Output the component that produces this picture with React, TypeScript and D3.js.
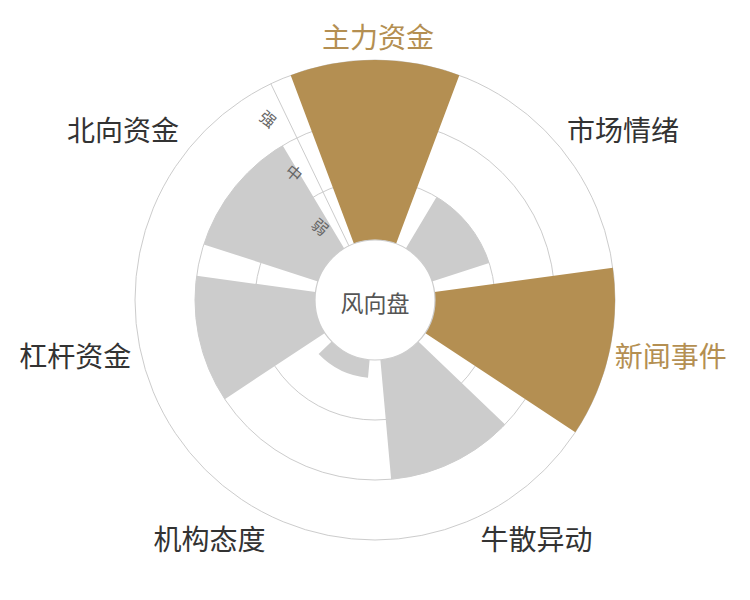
import React from "react";
import * as d3 from "d3";

const categories: string[] = ["主力资金", "市场情绪", "新闻事件", "牛散异动", "机构态度", "杠杆资金", "北向资金"];
const strength: number[] = [3, 1, 3, 2, 0.3, 2, 2];
const levels: string[] = ["弱", "中", "强"];
const centerLabel = "风向盘";

const W = 750;
const H = 600;
const CX = 375;
const CY = 300;
const INNER = 60;
const OUTER = 240;
const GOLD = "#B48F52";
const GREY = "#CCCCCC";
const LINE = "#CCCCCC";
const FONT = "'Noto Sans CJK SC', 'Noto Sans', sans-serif";

export default function App() {
  const n = categories.length;
  const step = (2 * Math.PI) / n;
  const angle = d3
    .scaleBand<string>()
    .domain(categories)
    .range([-step / 2, 2 * Math.PI - step / 2])
    .paddingInner(0.2)
    .paddingOuter(0.1);
  const maxV = levels.length;
  const r = d3.scaleLinear().domain([0, maxV]).range([INNER, OUTER]);
  const rBand = d3.scaleBand<string>().domain(levels).range([INNER, OUTER]);

  const arc = d3.arc<any>();
  const axisAngle = -step / 2; // radial axis at boundary before first category

  const ringValues = d3.range(1, maxV + 1);

  return (
    <svg
      width={W}
      height={H}
      style={{ position: "absolute", left: 0, top: 0, background: "#fff" }}
    >
      <g transform={`translate(${CX},${CY})`}>
        {ringValues.map((v) => (
          <circle key={v} r={r(v)} fill="none" stroke={LINE} strokeWidth={1} />
        ))}
        <line
          x1={INNER * Math.sin(axisAngle)}
          y1={-INNER * Math.cos(axisAngle)}
          x2={OUTER * Math.sin(axisAngle)}
          y2={-OUTER * Math.cos(axisAngle)}
          stroke={LINE}
          strokeWidth={1}
        />
        {categories.map((c, i) => {
          const a0 = angle(c)!;
          const a1 = a0 + angle.bandwidth();
          const d = arc({
            innerRadius: INNER,
            outerRadius: r(strength[i]),
            startAngle: a0,
            endAngle: a1,
          });
          return <path key={c} d={d || ""} fill={strength[i] >= maxV ? GOLD : GREY} />;
        })}
        <circle r={INNER} fill="#fff" stroke={LINE} strokeWidth={1.2} />
        <text
          x={0}
          y={2}
          textAnchor="middle"
          dominantBaseline="central"
          fontFamily={FONT}
          fontSize={23}
          fill="#555"
        >
          {centerLabel}
        </text>
        {levels.map((l) => {
          const rr = rBand(l)! + rBand.bandwidth() / 2;
          const off = 17;
          const ox = Math.sin(axisAngle);
          const oy = -Math.cos(axisAngle);
          const px = oy;
          const py = -ox;
          const x = rr * ox + off * px;
          const y = rr * oy + off * py;
          const rot = 40;
          return (
            <text
              key={l}
              transform={`translate(${x},${y}) rotate(${rot})`}
              textAnchor="middle"
              dominantBaseline="central"
              fontFamily={FONT}
              fontSize={16}
              fill="#666"
            >
              {l}
            </text>
          );
        })}
        {categories.map((c, i) => {
          const a = angle(c)! + angle.bandwidth() / 2;
          const rr = OUTER + 8;
          const x = rr * Math.sin(a);
          const y = -rr * Math.cos(a);
          const anchor = Math.abs(x) / rr < 0.3 ? "middle" : x > 0 ? "start" : "end";
          const vb = Math.abs(y) / rr < 0.3 ? "central" : y > 0 ? "hanging" : "auto";
          const dy = vb === "hanging" ? 1 : vb === "auto" ? -4 : 0;
          const dx = anchor === "middle" ? 3 : -2;
          return (
            <text
              key={c}
              x={x + dx}
              y={y + dy}
              textAnchor={anchor}
              dominantBaseline={vb}
              fontFamily={FONT}
              fontSize={28}
              fill={strength[i] >= maxV ? GOLD : "#333"}
            >
              {c}
            </text>
          );
        })}
      </g>
    </svg>
  );
}
